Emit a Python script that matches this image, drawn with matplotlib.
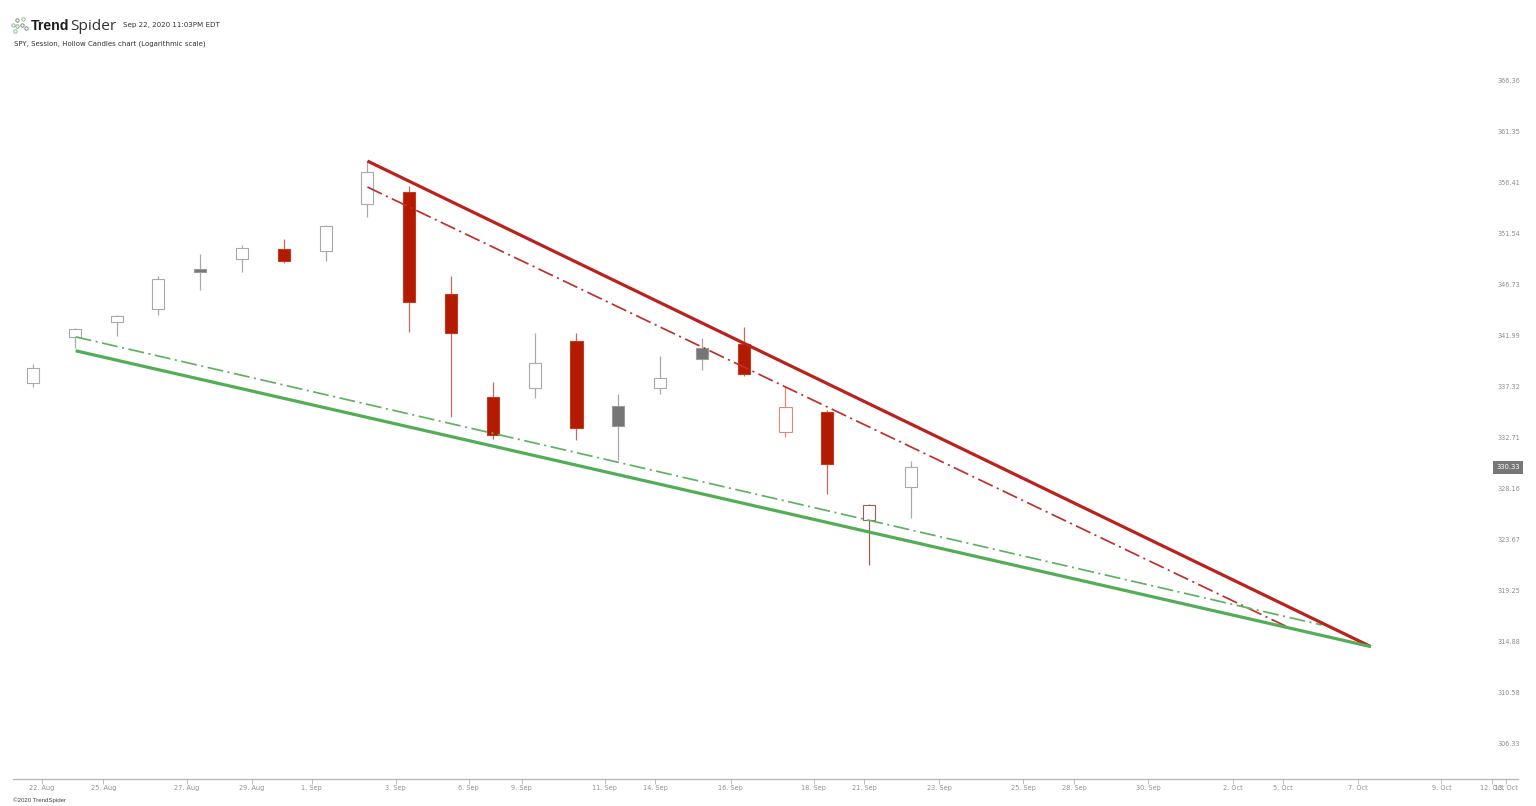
import matplotlib
matplotlib.use("Agg")
import matplotlib.pyplot as plt
from matplotlib.lines import Line2D
from matplotlib.ticker import NullLocator
from matplotlib.transforms import ScaledTranslation

W, H = 1536, 806

# one session per slot, index 0 is the first candle on the chart
candle_high = [339.70, 342.98, 344.20, 347.82, 349.87, 350.72, 351.31, 352.68, 358.73, 356.37, 347.82,
               338.05, 342.52, 342.54, 336.98, 340.37, 342.05, 343.07, 337.69, 335.50, 327.10, 330.88]
candle_top = [339.33, 342.91, 344.08, 347.51, 348.48, 350.49, 350.34, 352.55, 357.70, 355.83, 346.11,
              336.71, 339.76, 341.81, 335.83, 338.39, 341.17, 341.53, 335.80, 335.31, 326.99, 330.33]
candle_bottom = [337.96, 342.15, 343.53, 344.73, 348.23, 349.40, 349.27, 350.21, 354.62, 345.37, 342.57,
                 333.22, 337.53, 333.89, 334.04, 337.48, 340.13, 338.79, 333.49, 330.64, 325.67, 328.58]
candle_low = [337.59, 341.14, 342.29, 344.18, 346.51, 348.17, 349.05, 349.27, 353.44, 342.61, 334.86,
              332.88, 336.62, 332.83, 330.99, 336.98, 339.09, 338.54, 333.01, 328.01, 321.74, 325.87]
# g = hollow grey, r = filled red, k = filled grey, h = hollow red, d = hollow dark red
candle_kind = list("ggggkgrggrrrgrkgkrhrdg")

# trend lines: (index, price) ends
red_solid_x = [8.0, 32.0]
red_solid_y = [358.79, 314.75]
green_solid_x = [1.02, 32.0]
green_solid_y = [340.89, 314.75]
red_dash_x = [8.0, 30.06]
red_dash_y = [356.28, 316.33]
green_dash_x = [1.02, 30.83]
green_dash_y = [342.17, 316.59]

price_ticks = [366.36, 361.35, 356.41, 351.54, 346.73, 341.99, 337.32, 332.71, 328.16, 323.67, 319.25,
               314.88, 310.58, 306.33]
date_ticks = [0.22, 1.68, 3.68, 5.23, 6.67, 8.68, 10.42, 11.69, 13.68, 14.89, 16.69, 18.68, 19.89,
              21.68, 23.68, 24.90, 26.68, 28.70, 29.90, 31.69, 33.69, 34.90, 35.23]
date_labels = ["22. Aug", "25. Aug", "27. Aug", "29. Aug", "1. Sep", "3. Sep", "6. Sep", "9. Sep", "11. Sep",
               "14. Sep", "16. Sep", "18. Sep", "21. Sep", "23. Sep", "25. Sep", "28. Sep", "30. Sep",
               "2. Oct", "5. Oct", "7. Oct", "9. Oct", "12. Oct", "13. Oct"]
last_price = 330.33

# face, edge, wick
styles = {
    "g": ("white", "#a9a9a9", "#a9a9a9"),
    "k": ("#767676", "#9a9a9a", "#a9a9a9"),
    "r": ("#b31b00", "#c23a22", "#c96a5c"),
    "h": ("white", "#e08a7c", "#e08a7c"),
    "d": ("white", "#a85a50", "#a85a50"),
}

fig = plt.figure(figsize=(W / 100, H / 100), dpi=100, facecolor="white")
ax = fig.add_axes([13 / W, 1 - 778.5 / H, (1518 - 13) / W, (778.5 - 60) / H])
ax.set_yscale("log")
ax.set_xlim(-0.478, 35.522)
ax.set_ylim(303.75, 368.70)

for i in range(len(candle_kind)):
    face, edge, wick = styles[candle_kind[i]]
    ax.vlines(i, candle_low[i], candle_high[i], color=wick, lw=0.9, zorder=2)
    ax.bar(i, candle_top[i] - candle_bottom[i], bottom=candle_bottom[i], width=0.29,
           facecolor=face, edgecolor=edge, linewidth=0.8, zorder=3)

dash = (0, (9.2, 2.6, 1.2, 2.6))
ax.plot(red_solid_x, red_solid_y, color="#b9221d", lw=2.3, zorder=5, solid_capstyle="butt")
ax.plot(green_solid_x, green_solid_y, color="#52ad56", lw=2.3, zorder=5, solid_capstyle="butt")
ax.plot(red_dash_x, red_dash_y, color="#c0302b", lw=1.25, ls=dash, zorder=4)
ax.plot(green_dash_x, green_dash_y, color="#5fb163", lw=1.25, ls=dash, zorder=4)

for s in ["top", "left", "right"]:
    ax.spines[s].set_visible(False)
ax.spines["bottom"].set_color("#b4b4b4")
ax.spines["bottom"].set_linewidth(0.9)

ax.set_xticks(date_ticks)
ax.set_xticklabels(date_labels)
ax.tick_params(axis="x", length=3.6, width=0.7, color="#c0c0c0", pad=0.9, labelsize=4.7, labelcolor="#8b938b")

ax.yaxis.tick_right()
ax.yaxis.set_minor_locator(NullLocator())
ax.set_yticks(price_ticks)
ax.set_yticklabels(["%.2f" % p for p in price_ticks])
ax.tick_params(axis="y", length=0, pad=-14.6, labelsize=4.7, labelcolor="#8b8f8b")
up = ScaledTranslation(0, 3.6 / 100, fig.dpi_scale_trans)
for lab in ax.get_yticklabels():
    lab.set_transform(lab.get_transform() + up)

ax.text(35.28, last_price, "%.2f" % last_price, color="white", fontsize=4.9, ha="center", va="center",
        zorder=6, clip_on=False, bbox=dict(boxstyle="square,pad=0.5", facecolor="#777777", edgecolor="none"))

# header
fig.text(30.5 / W, 1 - 29.5 / H, "Trend", fontsize=10.2, fontweight="bold", family="Liberation Sans", color="#1c1c1c")
fig.text(70 / W, 1 - 29.5 / H, "Spider", fontsize=11.1, family="Open Sans", color="#333333")
fig.text(123 / W, 1 - 24.5 / H, "Sep 22, 2020 11:03PM EDT", fontsize=5.15, va="center", color="#333333")
fig.text(14 / W, 1 - 44 / H, "SPY, Session, Hollow Candles chart (Logarithmic scale)", fontsize=5.08, va="center",
         color="#333333")
fig.text(13 / W, 1 - 800 / H, "©2020 TrendSpider", fontsize=4.4, family="Liberation Sans", va="center", color="#444444")

# logo nodes
node_x = [13, 17.3, 23.3, 17.3, 15, 21.7, 25.7]
node_y = [24.7, 20.3, 19, 26, 30.7, 25, 28.3]
node_col = ["#8fbf8f", "#8a8a8a", "#8fbf8f", "#7fb57f", "#8fbf8f", "#8a8a8a", "#8a8a8a"]
for x, y, c in zip(node_x, node_y, node_col):
    fig.add_artist(Line2D([x / W], [1 - y / H], marker="o", ms=2.4, mfc="white", mec=c, mew=0.7, ls="none"))

fig.savefig("out.png", dpi=100)
